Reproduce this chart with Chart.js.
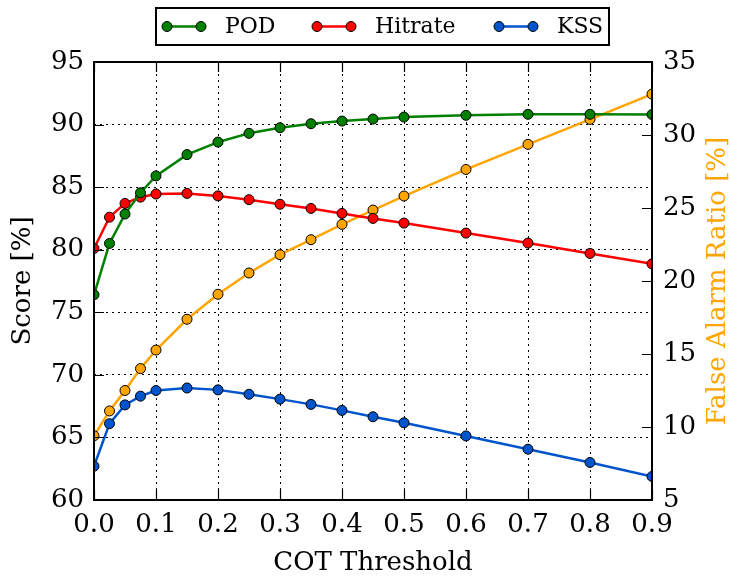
<!DOCTYPE html>
<html>
<head>
<meta charset="utf-8">
<script src="https://cdn.jsdelivr.net/npm/chart.js@4/dist/chart.umd.min.js"></script>
<style>
  html, body { margin: 0; padding: 0; background: #fff; }
  #wrap { width: 732px; height: 576px; }
</style>
</head>
<body>
<div id="wrap"><canvas id="c" width="732" height="576"></canvas></div>
<script>
const cot = [0, 0.025, 0.05, 0.075, 0.1, 0.15, 0.2, 0.25, 0.3, 0.35, 0.4, 0.45, 0.5, 0.6, 0.7, 0.8, 0.9];
const pod = [76.4, 80.5, 82.85, 84.55, 85.9, 87.6, 88.6, 89.3, 89.75, 90.07, 90.28, 90.44, 90.6, 90.74, 90.82, 90.82, 90.8];
const hitrate = [80.1, 82.6, 83.7, 84.2, 84.45, 84.5, 84.3, 84.0, 83.63, 83.3, 82.9, 82.5, 82.13, 81.33, 80.53, 79.7, 78.87];
const kss = [62.7, 66.1, 67.6, 68.3, 68.75, 68.95, 68.8, 68.45, 68.06, 67.64, 67.16, 66.65, 66.17, 65.12, 64.06, 63.0, 61.88];
const far = [9.4, 11.1, 12.5, 14.0, 15.27, 17.38, 19.09, 20.55, 21.8, 22.83, 23.88, 24.86, 25.82, 27.64, 29.36, 31.07, 32.8];

const FONT = '"DejaVu Serif", serif';
const ORANGE = '#FFA500';
const FS = 26;

function series(label, color, values, yAxisID = 'y', inLegend = true) {
  return {
    label,
    inLegend,
    data: values.map((v, i) => ({ x: cot[i], y: v })),
    borderColor: color,
    backgroundColor: color,
    borderWidth: 2.5,
    pointRadius: 5,
    pointBorderWidth: 1,
    pointBorderColor: '#000',
    pointBackgroundColor: color,
    tension: 0,
    yAxisID,
  };
}

// frame, inward ticks, legend box and right axis title
const mplDecor = {
  id: 'mplDecor',
  afterDraw(chart) {
    const { ctx, chartArea: a, scales } = chart;
    const tl = 10;
    ctx.save();
    ctx.strokeStyle = '#000';
    ctx.lineWidth = 1.2;
    ctx.beginPath();
    scales.x.ticks.forEach((t) => {
      const px = Math.round(scales.x.getPixelForValue(t.value)) + 0.5;
      ctx.moveTo(px, a.bottom); ctx.lineTo(px, a.bottom - tl);
      ctx.moveTo(px, a.top); ctx.lineTo(px, a.top + tl);
    });
    scales.y.ticks.forEach((t) => {
      const py = Math.round(scales.y.getPixelForValue(t.value)) + 0.5;
      ctx.moveTo(a.left, py); ctx.lineTo(a.left + tl, py);
    });
    scales.y1.ticks.forEach((t) => {
      const py = Math.round(scales.y1.getPixelForValue(t.value)) + 0.5;
      ctx.moveTo(a.right, py); ctx.lineTo(a.right - tl, py);
    });
    ctx.stroke();

    ctx.lineWidth = 2;
    ctx.strokeRect(a.left, a.top, a.right - a.left, a.bottom - a.top);

    // right axis title, reading upward
    ctx.fillStyle = ORANGE;
    ctx.font = `${FS}px ${FONT}`;
    ctx.textAlign = 'center';
    ctx.textBaseline = 'middle';
    ctx.translate(718, (a.top + a.bottom) / 2);
    ctx.rotate(-Math.PI / 2);
    ctx.fillText('False Alarm Ratio [%]', 0, 0);
    ctx.restore();

    // legend
    const items = chart.data.datasets.filter((d) => d.inLegend);
    const box = { x: 156, y: 8, w: 453, h: 37 };
    ctx.save();
    ctx.fillStyle = '#fff';
    ctx.fillRect(box.x, box.y, box.w, box.h);
    ctx.strokeStyle = '#000';
    ctx.lineWidth = 2;
    ctx.strokeRect(box.x, box.y, box.w, box.h);
    const starts = [167, 317, 499];
    const cy = box.y + box.h / 2;
    ctx.font = `22px ${FONT}`;
    ctx.textBaseline = 'middle';
    ctx.textAlign = 'left';
    items.forEach((d, i) => {
      const x0 = starts[i];
      const x1 = x0 + 34;
      ctx.strokeStyle = d.borderColor;
      ctx.lineWidth = 2.5;
      ctx.beginPath();
      ctx.moveTo(x0, cy); ctx.lineTo(x1, cy);
      ctx.stroke();
      [x0, x1].forEach((px) => {
        ctx.beginPath();
        ctx.arc(px, cy, 5, 0, Math.PI * 2);
        ctx.fillStyle = d.borderColor;
        ctx.fill();
        ctx.lineWidth = 1;
        ctx.strokeStyle = '#000';
        ctx.stroke();
      });
      ctx.fillStyle = '#000';
      ctx.fillText(d.label, x1 + 24, cy + 1);
    });
    ctx.restore();
  },
};

new Chart(document.getElementById('c'), {
  type: 'line',
  data: {
    datasets: [
      series('POD', '#008000', pod),
      series('Hitrate', '#FF0000', hitrate),
      series('KSS', '#0055CC', kss),
      series('FAR', ORANGE, far, 'y1', false),
    ],
  },
  options: {
    responsive: false,
    animation: false,
    layout: { padding: { top: 62, left: 0, right: 0, bottom: 0 } },
    plugins: { legend: { display: false }, tooltip: { enabled: false } },
    scales: {
      x: {
        type: 'linear',
        min: 0,
        max: 0.9,
        ticks: {
          stepSize: 0.1,
          color: '#000',
          font: { family: FONT, size: FS },
          padding: 10,
          maxRotation: 0,
          callback: (v) => v.toFixed(1),
        },
        grid: { color: '#000', lineWidth: 1, drawTicks: false },
        border: { display: false, dash: [2, 4] },
        title: { display: true, text: 'COT Threshold', color: '#000', font: { family: FONT, size: FS }, padding: { top: 0, bottom: -3 } },
        afterFit: (s) => { s.height = 76; },
      },
      y: {
        position: 'left',
        min: 60,
        max: 95,
        ticks: { stepSize: 5, color: '#000', font: { family: FONT, size: FS }, padding: 10 },
        grid: { color: '#000', lineWidth: 1, drawTicks: false },
        border: { display: false, dash: [2, 4] },
        title: { display: true, text: 'Score [%]', color: '#000', font: { family: FONT, size: FS }, padding: { top: 8, bottom: 0 } },
        afterFit: (s) => { s.width = 94; },
      },
      y1: {
        position: 'right',
        min: 5,
        max: 35,
        ticks: { stepSize: 5, color: '#000', font: { family: FONT, size: FS }, padding: 11 },
        grid: { drawOnChartArea: false, drawTicks: false },
        border: { display: false },
        afterFit: (s) => { s.width = 80; },
      },
    },
  },
  plugins: [mplDecor],
});
</script>
</body>
</html>
